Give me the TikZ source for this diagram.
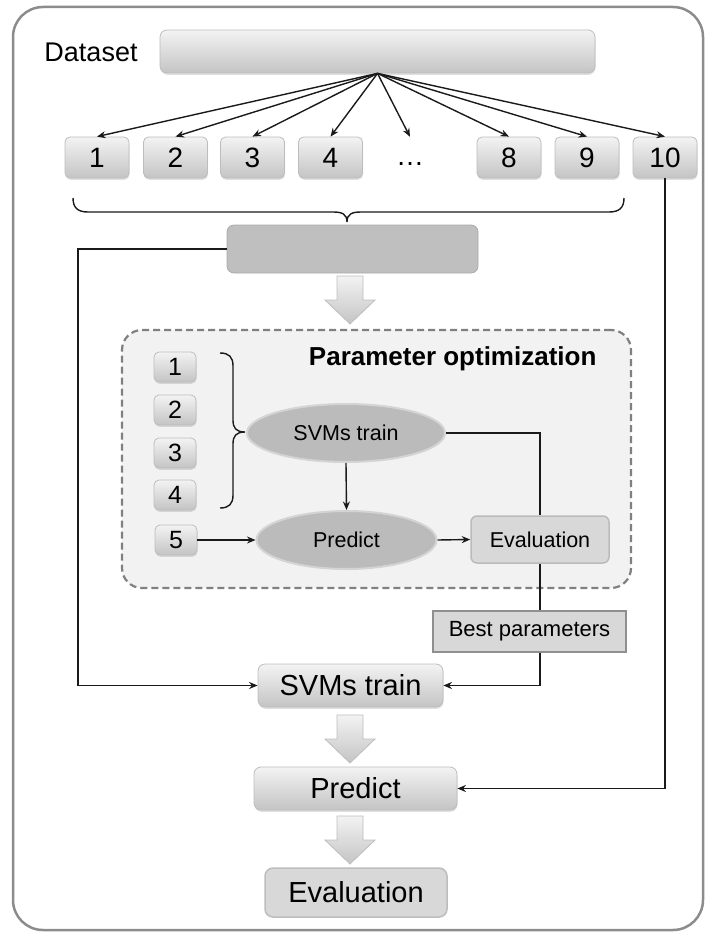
\documentclass[tikz,border=0pt]{standalone}
\usepackage{fontspec}
\setmainfont{Liberation Sans}
\usetikzlibrary{arrows.meta,shapes.geometric,shadows,calc}
\definecolor{framec}{HTML}{8C8C8C}
\definecolor{gtop}{HTML}{F3F3F3}
\definecolor{gbot}{HTML}{C4C4C4}
\definecolor{boxedge}{HTML}{BDBDBD}
\definecolor{gboxfill}{HTML}{BFBFBF}
\definecolor{gboxedge}{HTML}{ABABAB}
\definecolor{optfill}{HTML}{F2F2F2}
\definecolor{optedge}{HTML}{808080}
\definecolor{ellfill}{HTML}{BBBBBB}
\definecolor{elledge}{HTML}{D4D4D4}
\definecolor{evfill}{HTML}{D8D8D8}
\definecolor{evedge}{HTML}{BBBBBB}
\definecolor{bpedge}{HTML}{8F8F8F}
\definecolor{lnc}{HTML}{1A1A1A}
\newcommand\blkarrow[2]{\path[blockarr] (#1,#2) ++(-13,0) -- ++(26,0) -- ++(0,24) -- ++(12,0) -- ++(-25,24) -- ++(-25,-24) -- ++(12,0) -- cycle;}
\begin{document}
\begin{tikzpicture}[x=1pt,y=-1pt,
  conn/.style={draw=lnc, line width=1.4pt},
  arr/.style={conn, -{Stealth[length=8.5pt,width=7pt]}},
  softshadow/.style={drop shadow={shadow xshift=0.5pt, shadow yshift=-1.8pt, opacity=0.25}},
  gradbox/.style={draw=boxedge, line width=0.8pt, rounded corners=5pt, top color=gtop, bottom color=gbot, inner sep=0pt, softshadow},
  topnum/.style={gradbox, minimum width=64pt, minimum height=41pt, font=\fontsize{28}{30}\selectfont},
  innum/.style={gradbox, minimum width=42pt, minimum height=30pt, font=\fontsize{25}{26}\selectfont},
  bigbox/.style={gradbox, rounded corners=7pt, minimum height=43pt, font=\fontsize{29}{32}\selectfont},
  ellbox/.style={ellipse, fill=ellfill, draw=elledge, line width=2pt, inner sep=0pt, font=\fontsize{21.5}{24}\selectfont},
  blockarr/.style={draw=boxedge, line width=0.8pt, top color=gtop, bottom color=gbot}
]
\useasboundingbox (0,0) rectangle (707,934);
% outer frame
\draw[framec, line width=2.5pt, rounded corners=30pt] (13,7) rectangle (703,930);

% dataset
\node[font=\fontsize{27}{30}\selectfont] (dslabel) at (91,52) {Dataset};
\node[gradbox, rounded corners=7pt, minimum width=435pt, minimum height=43pt] (ds) at (377.5,51.5) {};

% folds
\node[topnum] (t1) at (97,157.5) {1};
\node[topnum] (t2) at (175.5,157.5) {2};
\node[topnum] (t3) at (252.5,157.5) {3};
\node[topnum] (t4) at (330.5,157.5) {4};
\node[minimum height=54pt, inner sep=0pt, font=\fontsize{28}{30}\selectfont] (tdots) at (410,164) {…};
\node[topnum] (t8) at (509,157.5) {8};
\node[topnum] (t9) at (587,157.5) {9};
\node[topnum] (t10) at (665,157.5) {10};

\foreach \b in {t1,t2,t3,t4,tdots,t8,t9,t10}{\draw[arr] (ds.south) -- (\b.north);}

% brace under folds 1..9
\draw[conn] (73,198) .. controls (73,208) and (78,212) .. (88,212) -- (333,212)
  .. controls (342,212) and (347,214) .. (347,222)
  .. controls (347,214) and (352,212) .. (361,212) -- (609,212)
  .. controls (619,212) and (624,208) .. (624,198);

% training-set box
\node[draw=gboxedge, fill=gboxfill, line width=0.8pt, rounded corners=7pt, minimum width=251pt, minimum height=48pt] (gbox) at (352.5,249) {};

\blkarrow{350}{276}

% parameter optimization region
\node[draw=optedge, fill=optfill, dashed, dash pattern=on 7pt off 4pt, line width=2.2pt, rounded corners=20pt, minimum width=509pt, minimum height=258pt] (opt) at (376.5,459) {};
\node[anchor=east, font=\bfseries\fontsize{26}{28}\selectfont] (optlabel) at (600,359) {Parameter optimization};

\node[innum] (i1) at (175,367) {1};
\node[innum] (i2) at (175,410) {2};
\node[innum] (i3) at (175,453) {3};
\node[innum] (i4) at (175,495) {4};
\node[innum] (i5) at (176,540) {5};

\draw[conn] (220,353) .. controls (229,353) and (233,357) .. (233,366) -- (233,420)
  .. controls (233,428) and (236,432) .. (245,432)
  .. controls (236,432) and (233,436) .. (233,444) -- (233,495)
  .. controls (233,504) and (229,508) .. (220,508);

\node[ellbox, minimum width=198pt, minimum height=58pt] (esvm) at (346,433) {SVMs train};
\node[ellbox, minimum width=180pt, minimum height=58pt] (epred) at (346.5,540) {Predict};
\node[draw=evedge, fill=evfill, line width=1.5pt, rounded corners=6pt, minimum width=138pt, minimum height=47pt, inner sep=0pt, font=\fontsize{21.5}{24}\selectfont] (ieval) at (540,539.5) {Evaluation};

\draw[arr] (esvm.south) -- (epred.north);
\draw[arr] (i5.east) -- (epred.west);
\draw[arr] (epred.east) -- (ieval.west);

% best parameters
\node[draw=bpedge, fill=evfill, line width=1.2pt, minimum width=193pt, minimum height=41pt, inner sep=0pt, font=\fontsize{22}{24}\selectfont] (best) at (529.5,631.5) {Best parameters};

% final pipeline
\node[bigbox, minimum width=185pt] (bsvm) at (350.5,685.5) {SVMs train};
\blkarrow{350}{715}
\node[bigbox, minimum width=203pt] (bpred) at (355.5,788.5) {Predict};
\blkarrow{350}{816}
\node[draw=boxedge, fill=evfill, line width=1.5pt, rounded corners=8pt, minimum width=182pt, minimum height=49pt, inner sep=0pt, font=\fontsize{29}{32}\selectfont] (beval) at (356,892.5) {Evaluation};

% connectors
\coordinate (lcorner) at (78,249);
\draw[arr] (gbox.west) -- (lcorner) |- (bsvm.west);
\draw[conn] (esvm.east) -- (esvm.east -| ieval.north) -- (ieval.north);
\draw[conn] (ieval.south) -- (ieval.south |- best.north);
\draw[arr] (ieval.south |- best.south) |- (bsvm.east);
\draw[arr] (t10.south) |- (bpred.east);
\end{tikzpicture}
\end{document}
